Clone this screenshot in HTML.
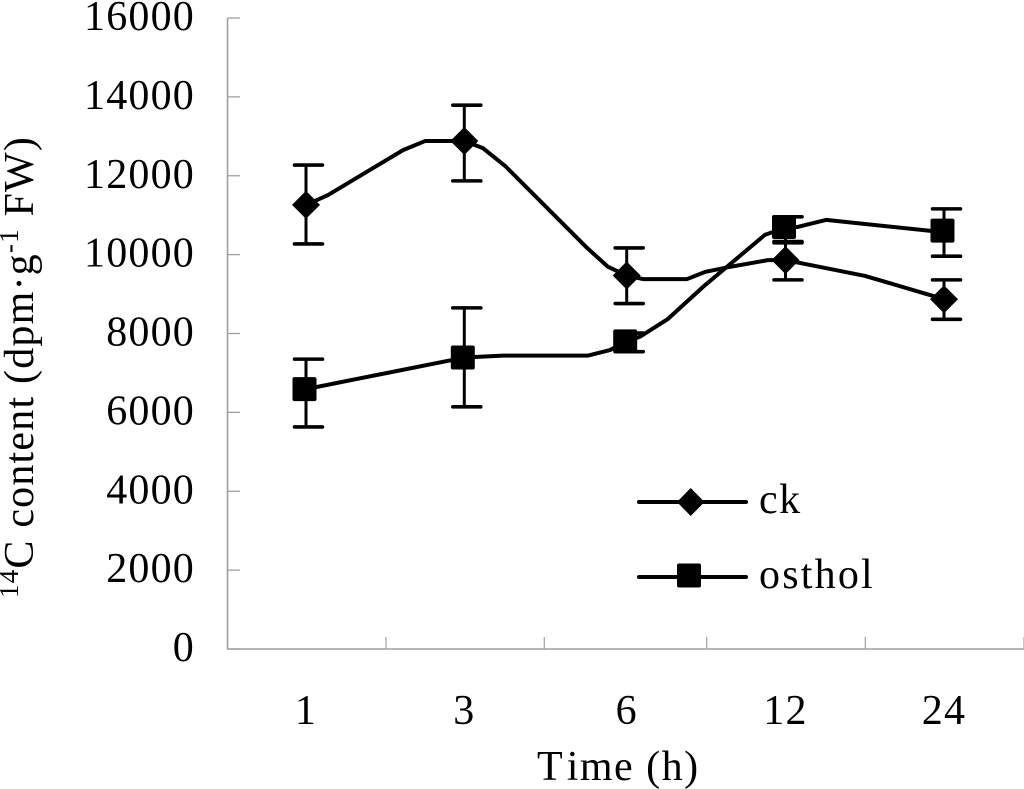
<!DOCTYPE html>
<html>
<head>
<meta charset="utf-8">
<style>
html,body{margin:0;padding:0;background:#fff;}
svg{display:block;}
text{font-family:"Liberation Serif",serif;fill:#000;}
</style>
</head>
<body>
<svg id="chart" width="1024" height="789" viewBox="0 0 1024 789" xmlns="http://www.w3.org/2000/svg">
<g id="axes"></g>
<g id="series"></g>
<text transform="translate(33,598) rotate(-90)" font-size="42" letter-spacing="1.2"><tspan font-size="27" dy="-15">14</tspan><tspan dy="15">C content (dpm·g</tspan><tspan font-size="27" dy="-15">-1</tspan><tspan dy="15"> FW)</tspan></text>
<text x="537" y="780" font-size="42" letter-spacing="1.5"><tspan>T</tspan><tspan dx="4">ime (h)</tspan></text>
<g>
<line x1="639" y1="502" x2="746" y2="502" stroke="#000" stroke-width="4" stroke-linecap="round"/>
<polygon points="690.7,488 704.5,502 690.7,516 677,502" fill="#000"/>
<text x="759" y="513" font-size="42" letter-spacing="1.5">ck</text>
<line x1="639" y1="577" x2="746" y2="577" stroke="#000" stroke-width="4" stroke-linecap="round"/>
<rect x="677" y="563.5" width="24" height="24" rx="2" fill="#000"/>
<text x="759" y="588" font-size="42" letter-spacing="2.2">osthol</text>
</g>
</svg>
<script>
var categories = ['1', '3', '6', '12', '24'];
var yTickLabels = [0, 2000, 4000, 6000, 8000, 10000, 12000, 14000, 16000];
var ckValues = [11260, 12880, 9470, 9860, 8870];
var ckErrUpper = [12270, 13790, 10170, 10300, 9360];
var ckErrLower = [10270, 11870, 8760, 9360, 8360];
var ostholValues = [6590, 7390, 7800, 10700, 10610];
var ostholErrUpper = [7350, 8650, 8010, 10960, 11160];
var ostholErrLower = [5630, 6140, 7540, 10330, 9960];
/* Curve values read between the categories, per segment: [fraction along segment, value] */
var ckBetween = [
  [[0.139, 11510], [0.613, 12650], [0.752, 12880]],
  [[0.115, 12700], [0.251, 12250], [0.756, 10170], [0.885, 9690]],
  [[0.103, 9380], [0.380, 9380], [0.493, 9560], [0.650, 9690], [0.889, 9860]],
  [[0.091, 9790], [0.502, 9460]]
];
var ostholBetween = [
  [],
  [[0.238, 7440], [0.762, 7440], [0.897, 7580]],
  [[0.084, 7920], [0.260, 8370], [0.480, 9180], [0.870, 10500], [0.920, 10570]],
  [[0.073, 10700], [0.256, 10880], [0.924, 10600]]
];

var svgNS = 'http://www.w3.org/2000/svg';
function xScale(t) {
  var stops = [306, 464.3, 626.7, 785.5, 944];
  var i = Math.min(Math.floor(t), stops.length - 2);
  return stops[i] + (stops[i + 1] - stops[i]) * (t - i);
}
function boundary(i) { return [227.5, 386, 544.3, 706.7, 865.3, 1024][i]; }
function yScale(v) { return 649 - v * 631 / 16000; }

function make(parent, tag, attrs) {
  var el = document.createElementNS(svgNS, tag);
  for (var k in attrs) el.setAttribute(k, attrs[k]);
  parent.appendChild(el);
  return el;
}

var axisColor = '#a0a0a0';
var axes = document.getElementById('axes');
var yAxis = make(axes, 'line', {x1: 227.5, y1: yScale(16000), x2: 227.5, y2: yScale(0), stroke: axisColor, 'stroke-width': 1.6});


var xAxis = make(axes, 'line', {x1: 227, y1: yScale(0), x2: 1024, y2: yScale(0), stroke: axisColor, 'stroke-width': 1.6});



yTickLabels.forEach(function (v) {
  var y = yScale(v);
  var tick = make(axes, 'line', {x1: 227.5, y1: y, x2: 240, y2: y, stroke: axisColor, 'stroke-width': 1.3});
  
  
  var label = make(axes, 'text', {x: 195, y: y + 12, 'text-anchor': 'end', 'font-size': 42, 'letter-spacing': 1.2});
  
  
  label.textContent = v;
});

for (var b = 1; b <= 5; b++) {
  var xt = make(axes, 'line', {x1: boundary(b), y1: 649, x2: boundary(b), y2: 637, stroke: axisColor, 'stroke-width': 1.2});
  
  
}

categories.forEach(function (c, i) {
  var label = make(axes, 'text', {x: xScale(i), y: 724, 'text-anchor': 'middle', 'font-size': 42, 'letter-spacing': 1.2});
  
  
  label.textContent = c;
});

function linePath(vals, between) {
  var d = 'M' + xScale(0) + ' ' + yScale(vals[0]);
  for (var i = 0; i < vals.length - 1; i++) {
    between[i].forEach(function (k) {
      d += 'L' + xScale(i + k[0]) + ' ' + yScale(k[1]);
    });
    d += 'L' + xScale(i + 1) + ' ' + yScale(vals[i + 1]);
  }
  return d;
}

function errorBars(group, name, upper, lower) {
  upper.forEach(function (u, i) {
    var x = xScale(i), yu = yScale(u), yl = yScale(lower[i]);
    var stem = make(group, 'line', {x1: x, y1: yu, x2: x, y2: yl, stroke: '#000', 'stroke-width': 3});
    
    
    var caps = make(group, 'path', {
      d: 'M' + (x - 11.5) + ' ' + yu + 'H' + (x + 16.5) + 'M' + (x - 11.5) + ' ' + yl + 'H' + (x + 16.5),
      stroke: '#000', 'stroke-width': 3.6, 'stroke-linecap': 'round', fill: 'none'
    });
    
    
  });
}

var seriesRoot = document.getElementById('series');
var ckGroup = make(seriesRoot, 'g', {});


var ostholGroup = make(seriesRoot, 'g', {});



errorBars(ckGroup, 'ck', ckErrUpper, ckErrLower);
errorBars(ostholGroup, 'osthol', ostholErrUpper, ostholErrLower);

var ckLine = make(ckGroup, 'path', {d: linePath(ckValues, ckBetween), fill: 'none', stroke: '#000', 'stroke-width': 4, 'stroke-linejoin': 'round'});


var ostholLine = make(ostholGroup, 'path', {d: linePath(ostholValues, ostholBetween), fill: 'none', stroke: '#000', 'stroke-width': 4, 'stroke-linejoin': 'round'});



ckValues.forEach(function (v, i) {
  var x = xScale(i), y = yScale(v), r = 14;
  var m = make(ckGroup, 'polygon', {points: x + ',' + (y - r) + ' ' + (x + r) + ',' + y + ' ' + x + ',' + (y + r) + ' ' + (x - r) + ',' + y, fill: '#000'});
  
  
});
ostholValues.forEach(function (v, i) {
  var x = xScale(i) - 1.5, y = yScale(v);
  var m = make(ostholGroup, 'rect', {x: x - 12, y: y - 12, width: 24, height: 24, rx: 2, fill: '#000'});
  
  
});
</script>
</body>
</html>
